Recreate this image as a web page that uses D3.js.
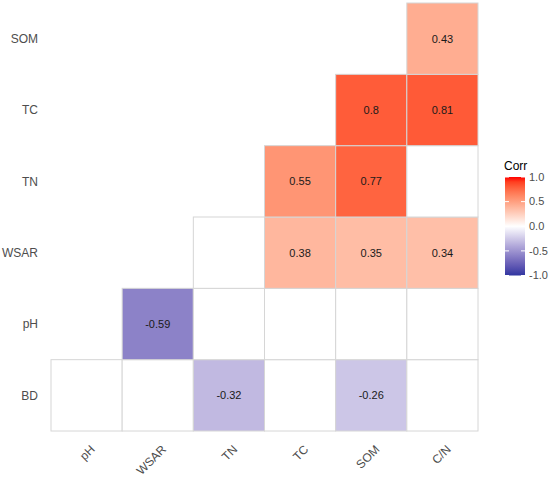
<!DOCTYPE html>
<html>
<head>
<meta charset="utf-8">
<script src="https://cdn.jsdelivr.net/npm/d3@7"></script>
<style>
  body { margin: 0; background: #fff; }
  text { font-family: "Liberation Sans", Arial, sans-serif; }
</style>
</head>
<body>
<div class="graphics"></div>
<script>
// variables on each axis
var xVars = ["pH", "WSAR", "TN", "TC", "SOM", "C/N"];
var yVars = ["BD", "pH", "WSAR", "TN", "TC", "SOM"];

// one row per y variable; null = no cell, "ns" = cell drawn blank
var corrBD   = ["ns", "ns", -0.32, "ns", -0.26, "ns"];
var corrPH   = [null, -0.59, "ns", "ns", "ns", "ns"];
var corrWSAR = [null, null, "ns", 0.38, 0.35, 0.34];
var corrTN   = [null, null, null, 0.55, 0.77, "ns"];
var corrTC   = [null, null, null, null, 0.8, 0.81];
var corrSOM  = [null, null, null, null, null, 0.43];

var legendTicks = [1, 0.5, 0, -0.5, -1];
var legendLabels = ["1.0", "0.5", "0.0", "-0.5", "-1.0"];

var rows = [corrBD, corrPH, corrWSAR, corrTN, corrTC, corrSOM];

var width = 550, height = 482;

var svg = d3.select(".graphics")
    .append("svg")
    .attr("width", width)
    .attr("height", height);

var x = d3.scaleBand()
    .domain(xVars)
    .range([51, 478]);

var y = d3.scaleBand()
    .domain(yVars)
    .range([431, 3]);

var color = d3.scaleLinear()
    .domain([-1, 0, 1])
    .range(["#3035a0", "#ffffff", "#ff0000"])
    .interpolate(d3.interpolateLab);

// flatten to cells
var cells = [];
rows.forEach(function(r, i) {
    r.forEach(function(v, j) {
        if (v === null) return;
        cells.push({ row: yVars[i], col: xVars[j], value: v });
    });
});

// tiles
svg.selectAll("rect.tile")
    .data(cells)
    .enter()
    .append("rect")
    .attr("class", "tile")
    .attr("x", function(d) { return x(d.col); })
    .attr("y", function(d) { return y(d.row); })
    .attr("width", x.bandwidth())
    .attr("height", y.bandwidth())
    .attr("fill", function(d) { return d.value === "ns" ? "#fff" : color(d.value); })
    .attr("stroke", "#d6d6d6")
    .attr("stroke-width", 1);

// values
svg.selectAll("text.val")
    .data(cells.filter(function(d) { return d.value !== "ns"; }))
    .enter()
    .append("text")
    .attr("class", "val")
    .attr("x", function(d) { return x(d.col) + x.bandwidth() / 2; })
    .attr("y", function(d) { return y(d.row) + y.bandwidth() / 2; })
    .attr("dy", "0.35em")
    .attr("text-anchor", "middle")
    .style("font-size", "11px")
    .style("fill", "#1a1a1a")
    .text(function(d) { return String(d.value); });

// y axis labels
svg.selectAll("text.ylab")
    .data(yVars)
    .enter()
    .append("text")
    .attr("class", "ylab")
    .attr("x", 38)
    .attr("y", function(d) { return y(d) + y.bandwidth() / 2; })
    .attr("dy", "0.35em")
    .attr("text-anchor", "end")
    .style("font-size", "12px")
    .style("fill", "#4d4d4d")
    .text(function(d) { return d; });

// x axis labels, rotated
svg.selectAll("text.xlab")
    .data(xVars)
    .enter()
    .append("text")
    .attr("class", "xlab")
    .attr("transform", function(d) {
        return "translate(" + (x(d) + x.bandwidth() / 2 + 3) + ",444)rotate(-45)";
    })
    .attr("dy", "0.72em")
    .attr("text-anchor", "end")
    .style("font-size", "12px")
    .style("fill", "#4d4d4d")
    .text(function(d) { return d; });

// legend
var ly = d3.scaleLinear().domain([-1, 1]).range([275.5, 177]);
var defs = svg.append("defs");
var grad = defs.append("linearGradient")
    .attr("id", "corrgrad")
    .attr("x1", "0").attr("y1", "1")
    .attr("x2", "0").attr("y2", "0");
grad.selectAll("stop")
    .data(d3.range(-1, 1.001, 0.1))
    .enter()
    .append("stop")
    .attr("offset", function(d) { return ((d + 1) / 2 * 100) + "%"; })
    .attr("stop-color", function(d) { return color(d); });

var lg = svg.append("g");
lg.append("text")
    .attr("x", 504)
    .attr("y", 170)
    .style("font-size", "12px")
    .style("fill", "#000")
    .text("Corr");

lg.append("rect")
    .attr("x", 505)
    .attr("y", ly(1))
    .attr("width", 20)
    .attr("height", ly(-1) - ly(1))
    .attr("fill", "url(#corrgrad)");

lg.selectAll("line.tl")
    .data(legendTicks)
    .enter()
    .append("line")
    .attr("x1", 505).attr("x2", 509)
    .attr("y1", function(d) { return ly(d); })
    .attr("y2", function(d) { return ly(d); })
    .attr("stroke", "#fff").attr("stroke-width", 1);

lg.selectAll("line.tr")
    .data(legendTicks)
    .enter()
    .append("line")
    .attr("x1", 521).attr("x2", 525)
    .attr("y1", function(d) { return ly(d); })
    .attr("y2", function(d) { return ly(d); })
    .attr("stroke", "#fff").attr("stroke-width", 1);

lg.selectAll("text.lt")
    .data(legendTicks)
    .enter()
    .append("text")
    .attr("x", 529)
    .attr("y", function(d) { return ly(d); })
    .attr("dy", "0.35em")
    .style("font-size", "11px")
    .style("fill", "#4d4d4d")
    .text(function(d, i) { return legendLabels[i]; });
</script>
</body>
</html>
